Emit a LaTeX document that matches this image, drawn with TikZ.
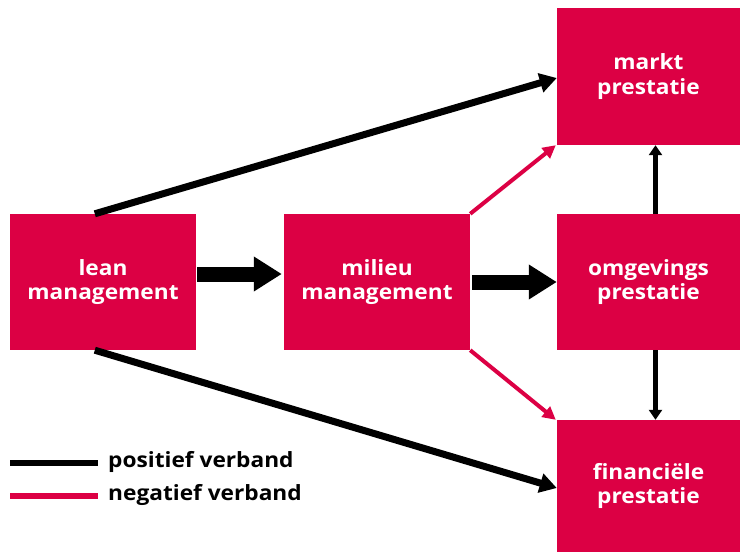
\documentclass[tikz,border=0pt]{standalone}
\usepackage{fontspec}
\setmainfont{Open Sans}[BoldFeatures={FakeStretch=1.08}]
\usetikzlibrary{arrows.meta,calc}
\definecolor{crim}{RGB}{220,0,68}
\begin{document}
\begin{tikzpicture}[x=1pt,y=-1pt,
 box/.style={fill=crim,draw=none,text=white,font=\bfseries\fontsize{21}{24.5}\selectfont,align=center,inner sep=0pt},
 bigarr/.style={line width=15pt,-{Triangle[length=28pt,width=33pt]}},
 posarr/.style={line width=7pt,-{Triangle[length=17pt,width=19pt]}},
 negarr/.style={crim,line width=4pt,-{Triangle[length=13pt,width=13pt]}},
 vertarr/.style={line width=5pt,-{Triangle[length=10pt,width=13pt]}},
 legline/.style={line width=6pt},
 legtext/.style={font=\bfseries\fontsize{21}{24}\selectfont,anchor=west,inner sep=0pt}]
\useasboundingbox (0,0) rectangle (740,552);
\node[box,minimum width=186pt,minimum height=136pt] (lean) at (103,282) {lean\\management};
\node[box,minimum width=186pt,minimum height=136pt] (milieu) at (377,282) {milieu\\management};
\node[box,minimum width=183pt,minimum height=136pt] (omg) at (648.5,282) {omgevings\\prestatie};
\node[box,minimum width=183pt,minimum height=137pt] (markt) at (648.5,76.5) {markt\\prestatie};
\node[box,minimum width=183pt,minimum height=132pt] (fin) at (648.5,486) {financiële\\prestatie};
% thick arrows
\draw[bigarr] ($(lean.east)+(1,-8)$) -- ($(milieu.west)+(-2,-8)$);
\draw[bigarr] ($(milieu.east)+(2,0)$) -- ($(omg.west)+(0,0)$);
% positive long lines
\draw[posarr] ($(lean.north west)+(85,0)$) -- ($(markt.west)+(0,1.5)$);
\draw[posarr] ($(lean.south west)+(85,0)$) -- ($(fin.west)+(0,2)$);
% negative lines
\draw[negarr] (milieu.north east) -- ($(markt.south west)+(-1,0)$);
\draw[negarr] (milieu.south east) -- ($(fin.north west)+(-1,0)$);
% vertical arrows
\draw[vertarr] ($(omg.north)+(7,0)$) -- ($(markt.south)+(7,0)$);
\draw[vertarr] ($(omg.south)+(7,0)$) -- ($(fin.north)+(7,0)$);
% legend
\coordinate (lp1) at (10,463);
\coordinate (lp2) at (98,463);
\coordinate (ln1) at (10,496);
\coordinate (ln2) at (98,496);
\draw[legline] (lp1) -- (lp2);
\draw[legline,crim] (ln1) -- (ln2);
\node[legtext] (tpos) at (108,462) {positief verband};
\node[legtext] (tneg) at (108,495) {negatief verband};
\end{tikzpicture}
\end{document}
